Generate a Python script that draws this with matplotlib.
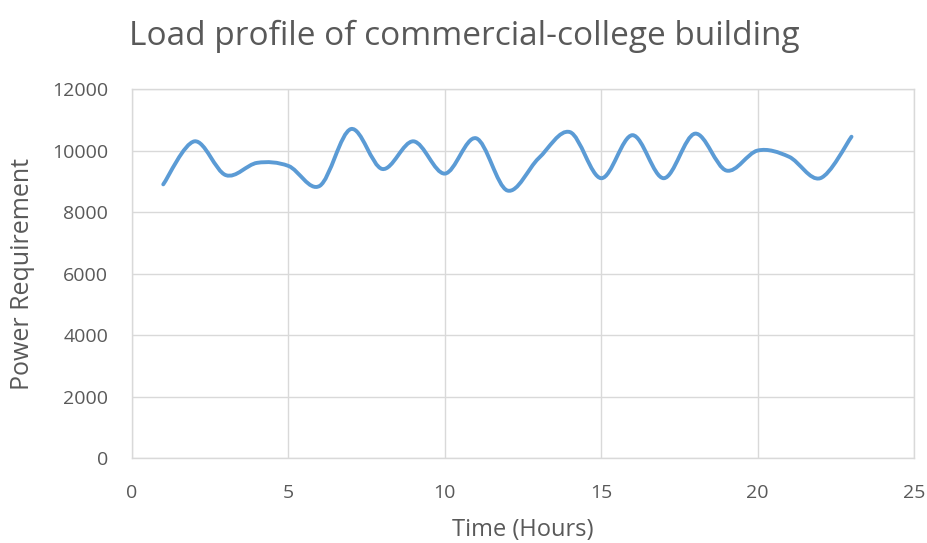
import numpy as np
import matplotlib.pyplot as plt
from matplotlib.path import Path
from matplotlib.patches import PathPatch

plt.rcParams['font.family'] = ['Open Sans', 'DejaVu Sans']

# hourly load readings
hours = list(range(1, 24))
power = [8900, 10300, 9200, 9600, 9500, 8850, 10700, 9400, 10300, 9250, 10400,
         8700, 9750, 10600, 9100, 10500, 9100, 10550, 9350, 10000, 9800, 9100, 10450]

x_ticks = [0, 5, 10, 15, 20, 25]
y_ticks = [0, 2000, 4000, 6000, 8000, 10000, 12000]

grey = '#595959'
grid_col = '#d9d9d9'
line_col = '#5b9bd5'


def smooth_path(xs, ys):
    # Excel-style smoothed line: cubic bezier through each point
    pts = np.column_stack([xs, ys]).astype(float)
    n = len(pts)
    verts = [pts[0]]
    codes = [Path.MOVETO]
    for i in range(n - 1):
        p0 = pts[i - 1] if i > 0 else pts[i]
        p1 = pts[i]
        p2 = pts[i + 1]
        p3 = pts[i + 2] if i + 2 < n else pts[i + 1]
        c1 = p1 + (p2 - p0) / 6.0
        c2 = p2 - (p3 - p1) / 6.0
        verts += [c1, c2, p2]
        codes += [Path.CURVE4] * 3
    return Path(verts, codes)


fig = plt.figure(figsize=(9.28, 5.43), dpi=100)
ax = fig.add_axes([0.1422, 0.1565, 0.8428, 0.6795])

ax.add_patch(PathPatch(smooth_path(hours, power), facecolor='none',
                       edgecolor=line_col, linewidth=2.8, capstyle='round',
                       joinstyle='round', zorder=3))

ax.set_xlim(0, 25)
ax.set_ylim(0, 12000)
ax.set_xticks(x_ticks)
ax.set_yticks(y_ticks)
ax.grid(True, color=grid_col, linewidth=1)
ax.set_axisbelow(True)
for s in ax.spines.values():
    s.set_color(grid_col)
    s.set_linewidth(1)
ax.tick_params(length=0, colors=grey, labelsize=14)
ax.tick_params(axis='y', pad=17)
ax.tick_params(axis='x', pad=19)

ax.set_xlabel('Time (Hours)', fontsize=17, color=grey, va='center')
ax.xaxis.set_label_coords(0.5, -0.195)
ax.set_ylabel('Power Requirement', fontsize=18, color=grey, va='center')
ax.yaxis.set_label_coords(-0.14, 0.5)
fig.text(0.5, 1 - 36 / 543, 'Load profile of commercial-college building',
         fontsize=24, color=grey, ha='center', va='center')

fig.savefig('out.png', dpi=100)
